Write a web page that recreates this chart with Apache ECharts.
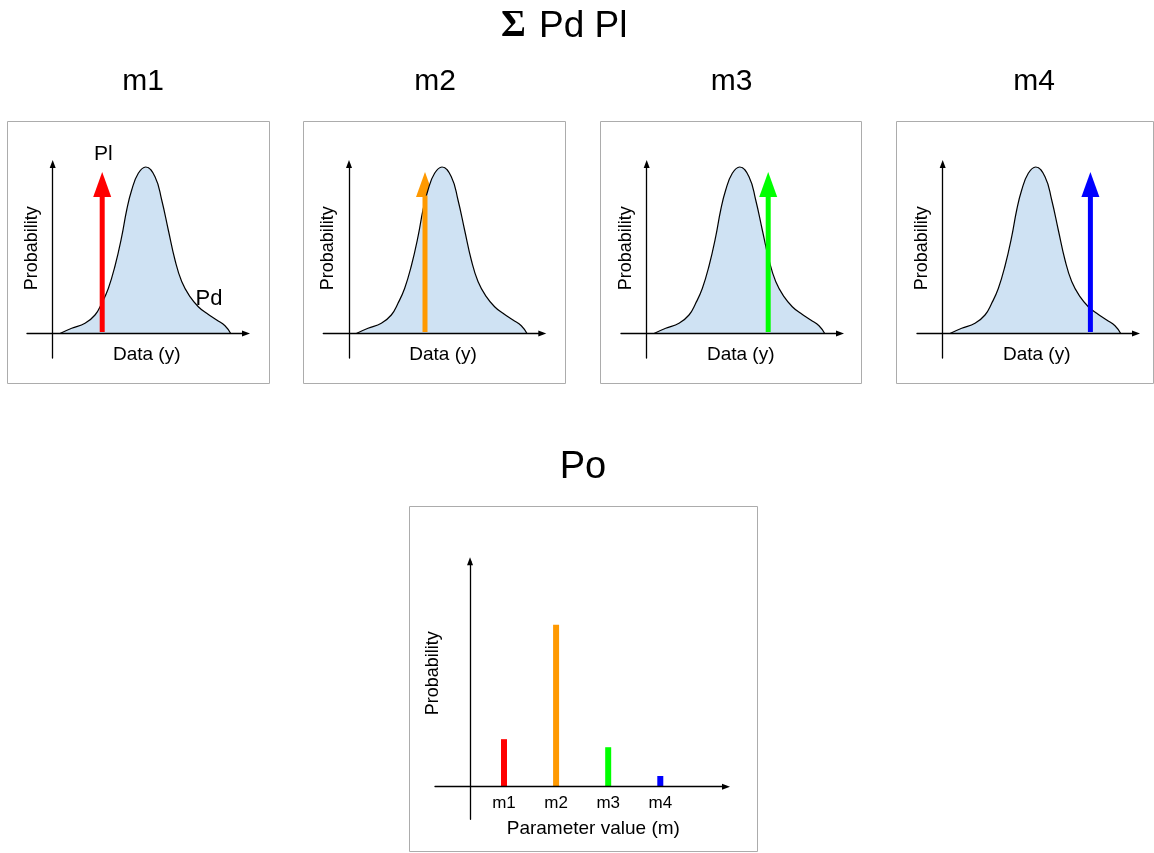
<!DOCTYPE html>
<html>
<head>
<meta charset="utf-8">
<script src="https://cdn.jsdelivr.net/npm/echarts@6/dist/echarts.min.js"></script>
<style>
html,body{margin:0;padding:0;background:#fff;}
#main{width:1154px;height:853px;}
</style>
</head>
<body>
<div id="main"></div>
<script>
// ---- data ----
const panelNames = ['m1', 'm2', 'm3', 'm4'];
// Pd curve (same shape in every panel): data value vs probability density
const pdX = [7.3, 19, 32.3, 42.3, 49, 55.6, 62.3, 69, 74, 79, 85.6, 93, 102.3, 109, 115.6, 122.3, 129, 137.3, 145.6, 154, 164, 172.3, 178];
const pdY = [0, 5.2, 10.2, 18.5, 30.2, 45, 67.5, 96.8, 123.5, 143.5, 160.2, 166.5, 156.8, 133.5, 103.5, 73.5, 52, 36.8, 26.8, 20.2, 13.5, 7.8, 0];
// Pl arrow position (data value) for each parameter
const plX = [49.5, 76, 121.5, 147.7];
const plBottom = 1.5, plShaftTop = 138, plHeadCenter = 149;
// Posterior probability Po for each parameter
const poCats = [1, 2, 3, 4];
const poVals = [0.183, 0.624, 0.152, 0.041];
const colors = ['#ff0000', '#ff9900', '#00ff00', '#0000ff'];

// ---- layout ----
const FONT = '"Liberation Sans", Arial, sans-serif';
const yAxisPx = [52.7, 349, 646.7, 942.7];
const titleX = [143, 435, 731.5, 1034];
const boxes = [[7.5, 121.5, 262, 262], [303.5, 121.5, 262, 262], [600.5, 121.5, 261, 262], [896.5, 121.5, 257, 262]];

const grids = [], xAxes = [], yAxes = [], series = [], graphics = [];
const axisLineBase = {
  show: true,
  symbol: ['none', 'triangle'],
  symbolSize: [6, 8],
  lineStyle: { color: '#000', width: 1.3 }
};

for (let i = 0; i < 4; i++) {
  grids.push({ left: yAxisPx[i] - 25.7, top: 164, width: 219, height: 194 });
  xAxes.push({
    gridIndex: i, type: 'value', min: -25.7, max: 193.3, z: 5,
    axisLine: Object.assign({ onZero: true }, axisLineBase),
    axisTick: { show: false }, axisLabel: { show: false }, splitLine: { show: false }
  });
  yAxes.push({
    gridIndex: i, type: 'value', min: -24.5, max: 169.5, z: 5,
    axisLine: Object.assign({ onZero: true }, axisLineBase),
    axisTick: { show: false }, axisLabel: { show: false }, splitLine: { show: false }
  });
  series.push({
    type: 'line', xAxisIndex: i, yAxisIndex: i,
    data: pdX.map((x, j) => [x, pdY[j]]),
    smooth: 0.45, symbol: 'none', silent: true,
    lineStyle: { color: '#000', width: 1.2 },
    areaStyle: { color: '#cfe2f3', opacity: 1 }
  });
  series.push({
    type: 'line', xAxisIndex: i, yAxisIndex: i,
    data: [[plX[i], plBottom], [plX[i], plShaftTop]],
    symbol: 'none', silent: true,
    lineStyle: { color: colors[i], width: 5, cap: 'butt' }
  });
  series.push({
    type: 'scatter', xAxisIndex: i, yAxisIndex: i,
    data: [[plX[i], plHeadCenter]],
    symbol: 'triangle', symbolSize: [18, 25], silent: true,
    itemStyle: { color: colors[i], opacity: 1 }
  });
  // panel box
  graphics.push({
    type: 'rect', shape: { x: boxes[i][0], y: boxes[i][1], width: boxes[i][2], height: boxes[i][3] },
    style: { fill: 'none', stroke: '#acacac', lineWidth: 1 }, z: -10, silent: true
  });
  graphics.push({
    type: 'text', style: { text: panelNames[i], x: titleX[i], y: 81.8, textAlign: 'center', textVerticalAlign: 'middle', font: '30px ' + FONT, fill: '#000' }
  });
  graphics.push({
    type: 'text', rotation: Math.PI / 2, x: yAxisPx[i] - 21, y: 248.3,
    style: { text: 'Probability', x: 0, y: 0, textAlign: 'center', textVerticalAlign: 'middle', font: '18px ' + FONT, fill: '#000' }
  });
  graphics.push({
    type: 'text', style: { text: 'Data (y)', x: yAxisPx[i] + 94, y: 355, textAlign: 'center', textVerticalAlign: 'middle', font: '19px ' + FONT, fill: '#000' }
  });
}

// bottom Po chart
grids.push({ left: 435, top: 561.3, width: 291, height: 258 });
xAxes.push({
  gridIndex: 4, type: 'value', min: -0.324, max: 5.261, z: 5,
  axisLine: Object.assign({ onZero: true }, axisLineBase),
  axisTick: { show: false }, splitLine: { show: false },
  axisLabel: {
    show: true, customValues: poCats, margin: -24,
    formatter: v => (poCats.indexOf(v) >= 0 ? 'm' + v : ''),
    color: '#000', fontSize: 17, fontFamily: FONT
  }
});
yAxes.push({
  gridIndex: 4, type: 'value', min: -0.126, max: 0.869, z: 5, offset: -35,
  axisLine: Object.assign({ onZero: false }, axisLineBase),
  axisTick: { show: false }, axisLabel: { show: false }, splitLine: { show: false }
});
series.push({
  type: 'bar', xAxisIndex: 4, yAxisIndex: 4, barWidth: 6, silent: true,
  data: poCats.map((c, j) => ({ value: [c, poVals[j]], itemStyle: { color: colors[j] } }))
});
graphics.push({
  type: 'rect', shape: { x: 409.5, y: 506.5, width: 348, height: 345 },
  style: { fill: 'none', stroke: '#acacac', lineWidth: 1 }, z: -10, silent: true
});
graphics.push({
  type: 'text', rotation: Math.PI / 2, x: 433.3, y: 673.3,
  style: { text: 'Probability', x: 0, y: 0, textAlign: 'center', textVerticalAlign: 'middle', font: '18px ' + FONT, fill: '#000' }
});
graphics.push({
  type: 'text', style: { text: 'Parameter value (m)', x: 593.3, y: 828.3, textAlign: 'center', textVerticalAlign: 'middle', font: '19px ' + FONT, fill: '#000' }
});

// headings and annotations
graphics.push({ type: 'text', style: { text: 'Σ', x: 501, y: 26.5, textAlign: 'left', textVerticalAlign: 'middle', font: 'bold 38px "Liberation Serif", "Times New Roman", serif', fill: '#000' } });
graphics.push({ type: 'text', style: { text: 'Pd Pl', x: 539, y: 26.7, textAlign: 'left', textVerticalAlign: 'middle', font: '37px ' + FONT, fill: '#000' } });
graphics.push({ type: 'text', style: { text: 'Po', x: 583, y: 467.7, textAlign: 'center', textVerticalAlign: 'middle', font: '38px ' + FONT, fill: '#000' } });
graphics.push({ type: 'text', style: { text: 'Pl', x: 103.3, y: 154.3, textAlign: 'center', textVerticalAlign: 'middle', font: '21px ' + FONT, fill: '#000' } });
graphics.push({ type: 'text', style: { text: 'Pd', x: 209, y: 298.7, textAlign: 'center', textVerticalAlign: 'middle', font: '22px ' + FONT, fill: '#000' } });

const chart = echarts.init(document.getElementById('main'), null, { renderer: 'canvas' });
chart.setOption({
  backgroundColor: '#fff',
  animation: false,
  grid: grids,
  xAxis: xAxes,
  yAxis: yAxes,
  series: series,
  graphic: graphics
});
</script>
</body>
</html>
